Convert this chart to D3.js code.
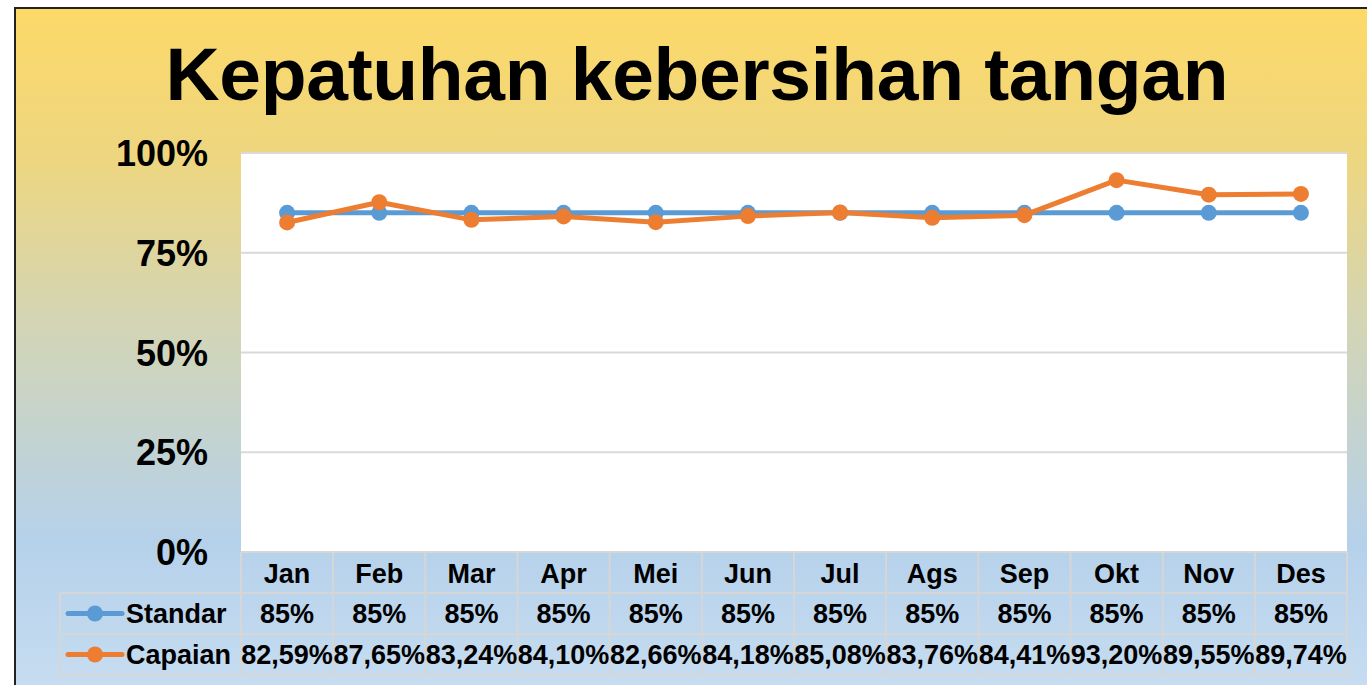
<!DOCTYPE html>
<html>
<head>
<meta charset="utf-8">
<script src="https://cdn.jsdelivr.net/npm/d3@7"></script>
<style>
  body { margin: 0; background: #fff; }
  svg { display: block; font-family: "Liberation Sans", Arial, sans-serif; font-weight: bold; }
</style>
</head>
<body>
<div id="chart"></div>
<script>
var width = 1367,
    height = 685;

// data
var months = ["Jan", "Feb", "Mar", "Apr", "Mei", "Jun", "Jul", "Ags", "Sep", "Okt", "Nov", "Des"];
var standar = [85, 85, 85, 85, 85, 85, 85, 85, 85, 85, 85, 85];
var capaian = [82.59, 87.65, 83.24, 84.10, 82.66, 84.18, 85.08, 83.76, 84.41, 93.20, 89.55, 89.74];
var standarLabels = ["85%", "85%", "85%", "85%", "85%", "85%", "85%", "85%", "85%", "85%", "85%", "85%"];
var capaianLabels = ["82,59%", "87,65%", "83,24%", "84,10%", "82,66%", "84,18%", "85,08%", "83,76%", "84,41%", "93,20%", "89,55%", "89,74%"];
var yTicks = [0, 25, 50, 75, 100];

var series = [
  { name: "Standar", values: standar, labels: standarLabels, color: "#5B9BD5" },
  { name: "Capaian", values: capaian, labels: capaianLabels, color: "#ED7D31" }
];

var plot = { left: 241, right: 1347, top: 153, bottom: 552 },
    rowH = 41,
    legendLeft = 60;

var x = d3.scaleBand()
    .domain(months)
    .range([plot.left, plot.right]);

var y = d3.scaleLinear()
    .domain([0, 100])
    .range([plot.bottom, plot.top]);

var svg = d3.select("#chart").append("svg")
    .attr("width", width)
    .attr("height", height);

// background gradient
var grad = svg.append("defs").append("linearGradient")
    .attr("id", "bg")
    .attr("x1", 0).attr("y1", 0).attr("x2", 0).attr("y2", 1);
grad.append("stop").attr("offset", "0%").attr("stop-color", "#FDD968");
grad.append("stop").attr("offset", "22%").attr("stop-color", "#EDD680");
grad.append("stop").attr("offset", "45%").attr("stop-color", "#D4D5B3");
grad.append("stop").attr("offset", "78%").attr("stop-color", "#B5D1EA");
grad.append("stop").attr("offset", "100%").attr("stop-color", "#C7DDF1");

svg.append("rect")
    .attr("x", 15).attr("y", 8)
    .attr("width", width).attr("height", height)
    .attr("fill", "url(#bg)")
    .attr("stroke", "#222")
    .attr("stroke-width", 2);

// title
svg.append("text")
    .attr("x", 697)
    .attr("y", 100)
    .attr("text-anchor", "middle")
    .attr("font-size", 75)
    .attr("textLength", 1063)
    .attr("fill", "#000")
    .text("Kepatuhan kebersihan tangan");

// plot area
svg.append("rect")
    .attr("x", plot.left).attr("y", plot.top)
    .attr("width", plot.right - plot.left)
    .attr("height", plot.bottom - plot.top)
    .attr("fill", "#fff");

svg.append("g")
  .selectAll("line")
  .data(yTicks.filter(function(d) { return d > 0; }))
  .join("line")
    .attr("x1", plot.left).attr("x2", plot.right)
    .attr("y1", function(d) { return y(d); })
    .attr("y2", function(d) { return y(d); })
    .attr("stroke", "#D9D9D9")
    .attr("stroke-width", 2);

// y axis
var yAxis = svg.append("g")
    .attr("transform", "translate(" + (plot.left - 33) + ",0)")
    .call(d3.axisLeft(y).tickValues(yTicks).tickSize(0).tickFormat(function(d) { return d + "%"; }));
yAxis.select(".domain").remove();
yAxis.selectAll("text")
    .attr("x", 0)
    .attr("dy", "0.35em")
    .attr("font-size", 36)
    .attr("font-family", "Liberation Sans, Arial, sans-serif")
    .attr("font-weight", "bold")
    .attr("fill", "#000");

// lines and markers
var line = d3.line()
    .x(function(d, i) { return x(months[i]) + x.bandwidth() / 2; })
    .y(function(d) { return y(d); });

series.forEach(function(s) {
  svg.append("path")
      .datum(s.values)
      .attr("fill", "none")
      .attr("stroke", s.color)
      .attr("stroke-width", 5)
      .attr("stroke-linejoin", "round")
      .attr("d", line);

  svg.append("g")
    .selectAll("circle")
    .data(s.values)
    .join("circle")
      .attr("cx", function(d, i) { return x(months[i]) + x.bandwidth() / 2; })
      .attr("cy", function(d) { return y(d); })
      .attr("r", 8)
      .attr("fill", s.color);
});

// data table
var table = svg.append("g");
var gridColor = "#D6D6D6";

// horizontal rules
[0, 1, 2, 3].forEach(function(r) {
  table.append("line")
      .attr("x1", r === 0 ? plot.left : legendLeft)
      .attr("x2", plot.right)
      .attr("y1", plot.bottom + r * rowH)
      .attr("y2", plot.bottom + r * rowH)
      .attr("stroke", gridColor)
      .attr("stroke-width", 2);
});

// vertical rules
table.append("line")
    .attr("x1", legendLeft).attr("x2", legendLeft)
    .attr("y1", plot.bottom + rowH).attr("y2", plot.bottom + 3 * rowH)
    .attr("stroke", gridColor).attr("stroke-width", 2);

table.selectAll("line.col")
  .data(months.map(function(m) { return x(m); }).concat([plot.right]))
  .join("line")
    .attr("class", "col")
    .attr("x1", function(d) { return d; })
    .attr("x2", function(d) { return d; })
    .attr("y1", plot.bottom)
    .attr("y2", plot.bottom + 3 * rowH)
    .attr("stroke", gridColor)
    .attr("stroke-width", 2);

// header
table.selectAll("text.month")
  .data(months)
  .join("text")
    .attr("class", "month")
    .attr("x", function(d) { return x(d) + x.bandwidth() / 2; })
    .attr("y", plot.bottom + 31)
    .attr("text-anchor", "middle")
    .attr("font-size", 27)
    .text(function(d) { return d; });

// rows
series.forEach(function(s, r) {
  var rowY = plot.bottom + (r + 1) * rowH;
  var midY = rowY + rowH / 2;

  table.append("line")
      .attr("x1", 68).attr("x2", 122)
      .attr("y1", midY).attr("y2", midY)
      .attr("stroke", s.color)
      .attr("stroke-width", 5)
      .attr("stroke-linecap", "round");
  table.append("circle")
      .attr("cx", 95).attr("cy", midY)
      .attr("r", 8)
      .attr("fill", s.color);
  table.append("text")
      .attr("x", 126)
      .attr("y", rowY + 30)
      .attr("font-size", 27)
      .text(s.name);

  table.append("g")
    .selectAll("text")
    .data(s.labels)
    .join("text")
      .attr("x", function(d, i) { return x(months[i]) + x.bandwidth() / 2; })
      .attr("y", rowY + 30)
      .attr("text-anchor", "middle")
      .attr("font-size", 27)
      .text(function(d) { return d; });
});
</script>
</body>
</html>
